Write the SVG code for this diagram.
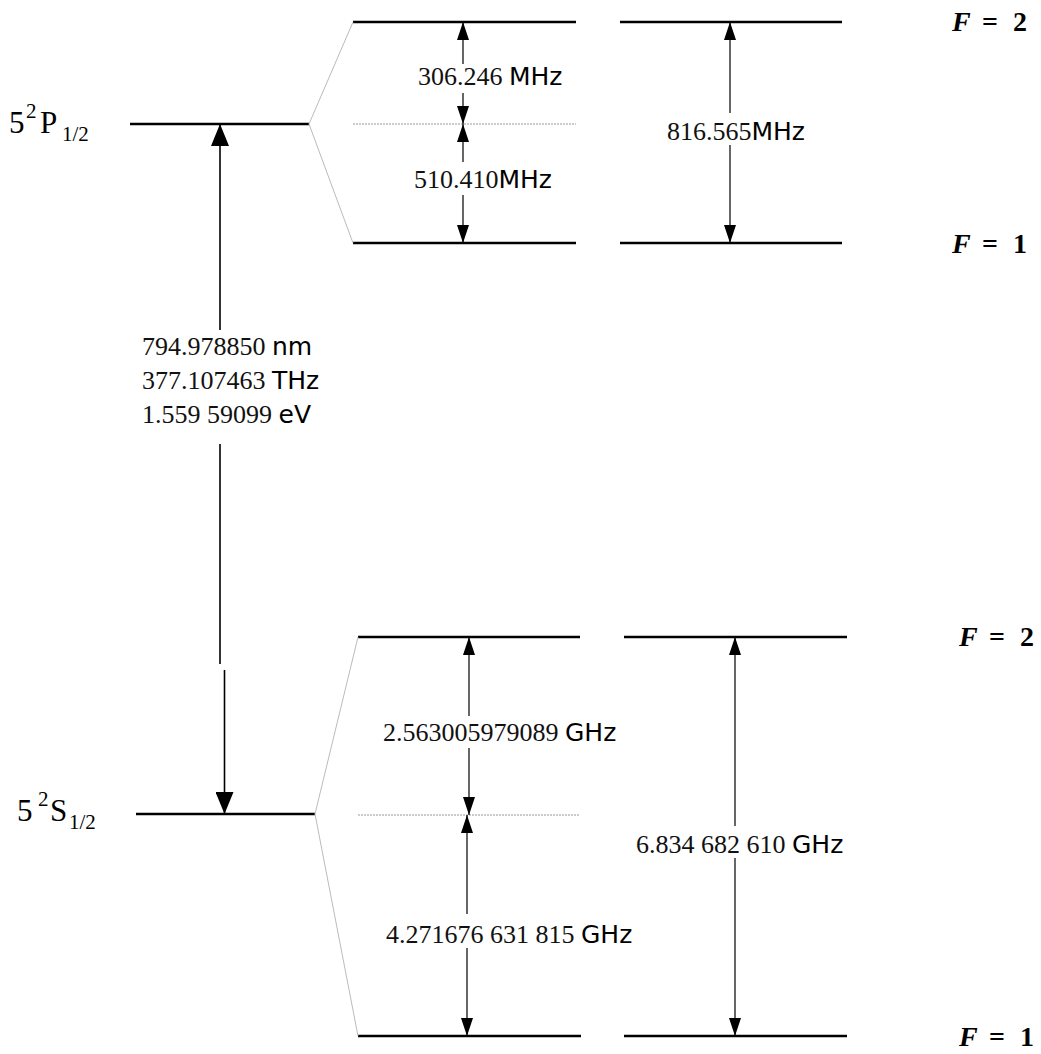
<svg xmlns="http://www.w3.org/2000/svg" width="1041" height="1054" viewBox="0 0 1041 1054">
<style>
.lvl{stroke:#000;stroke-width:2.6;fill:none}
.fan{stroke:#bbb;stroke-width:1;fill:none}
.dot{stroke:#999;stroke-width:1;stroke-dasharray:2 1;fill:none}
.arr{stroke:#000;stroke-width:1.2;fill:none}
.main{stroke:#000;stroke-width:1.6;fill:none}
.num{font-family:"Liberation Serif","Times New Roman",serif;font-size:26px;fill:#111}
.unit{font-family:"DejaVu Sans",Verdana,sans-serif;font-size:25px;fill:#000}
.lab{font-family:"Liberation Serif","Times New Roman",serif;fill:#000;font-size:31px}
.F{font-family:"Liberation Serif","Times New Roman",serif;font-size:28px;font-weight:bold;fill:#000}
</style>
<defs>
<marker id="ah" viewBox="0 0 18 12" refX="18" refY="6" markerWidth="18" markerHeight="12" markerUnits="userSpaceOnUse" orient="auto-start-reverse">
<path d="M0,0 L18,6 L0,12 Z" fill="#000"/>
</marker>
<marker id="ahBig" viewBox="0 0 22 18" refX="22" refY="9" markerWidth="22" markerHeight="18" markerUnits="userSpaceOnUse" orient="auto-start-reverse">
<path d="M0,0 L22,9 L0,18 Z" fill="#000"/>
</marker>
</defs>

<g id="P-level">
<line class="lvl" x1="130" y1="124" x2="309" y2="124"/>
<text class="lab" x="9" y="133">5<tspan font-size="21" x="26" y="118">2</tspan><tspan x="40" y="133">P</tspan><tspan font-size="21" x="62" y="141">1/2</tspan></text>
</g>
<g id="S-level">
<line class="lvl" x1="136" y1="814" x2="315" y2="814"/>
<text class="lab" x="17" y="821">5<tspan font-size="21" x="38" y="806">2</tspan><tspan x="50" y="821">S</tspan><tspan font-size="21" x="69" y="829">1/2</tspan></text>
</g>

<g id="P-F2">
<line class="lvl" x1="353" y1="22" x2="576" y2="22"/>
<line class="lvl" x1="620" y1="22" x2="842" y2="22"/>
<text class="F" y="31"><tspan x="952" font-style="italic">F</tspan><tspan x="982">=</tspan><tspan x="1013">2</tspan></text>
</g>
<g id="P-F1">
<line class="lvl" x1="353" y1="243" x2="576" y2="243"/>
<line class="lvl" x1="620" y1="243" x2="842" y2="243"/>
<text class="F" y="253"><tspan x="952" font-style="italic">F</tspan><tspan x="982">=</tspan><tspan x="1013">1</tspan></text>
</g>
<g id="S-F2">
<line class="lvl" x1="358" y1="637" x2="580" y2="637"/>
<line class="lvl" x1="624" y1="637" x2="847" y2="637"/>
<text class="F" y="646"><tspan x="959" font-style="italic">F</tspan><tspan x="989">=</tspan><tspan x="1020">2</tspan></text>
</g>
<g id="S-F1">
<line class="lvl" x1="358" y1="1036" x2="581" y2="1036"/>
<line class="lvl" x1="624" y1="1036" x2="847" y2="1036"/>
<text class="F" y="1046"><tspan x="959" font-style="italic">F</tspan><tspan x="989">=</tspan><tspan x="1020">1</tspan></text>
</g>

<g id="connectors">
<path class="fan" d="M353,22 L309,124 L353,243"/>
<path class="fan" d="M358,637 L315,814 L358,1036"/>
<line class="dot" x1="353" y1="124" x2="576" y2="124"/>
<line class="dot" x1="358" y1="815" x2="580" y2="815"/>

<line class="main" x1="220" y1="330" x2="220" y2="124" marker-end="url(#ahBig)"/>
<line class="main" x1="220" y1="444" x2="220" y2="664"/>
<line class="main" x1="224.5" y1="670" x2="224.5" y2="814" marker-end="url(#ahBig)"/>

<line class="arr" x1="463" y1="64" x2="463" y2="22" marker-end="url(#ah)"/>
<line class="arr" x1="463" y1="93" x2="463" y2="124" marker-end="url(#ah)"/>
<line class="arr" x1="463" y1="162" x2="463" y2="124" marker-end="url(#ah)"/>
<line class="arr" x1="463" y1="195" x2="463" y2="243" marker-end="url(#ah)"/>
<line class="arr" x1="730" y1="113" x2="730" y2="22" marker-end="url(#ah)"/>
<line class="arr" x1="730" y1="145" x2="730" y2="243" marker-end="url(#ah)"/>

<line class="arr" x1="469" y1="716" x2="469" y2="637" marker-end="url(#ah)"/>
<line class="arr" x1="469" y1="748" x2="469" y2="815" marker-end="url(#ah)"/>
<line class="arr" x1="467" y1="914" x2="467" y2="815" marker-end="url(#ah)"/>
<line class="arr" x1="467" y1="948" x2="467" y2="1036" marker-end="url(#ah)"/>
<line class="arr" x1="735" y1="826" x2="735" y2="637" marker-end="url(#ah)"/>
<line class="arr" x1="735" y1="858" x2="735" y2="1036" marker-end="url(#ah)"/>
</g>

<g id="labels">
<text x="142" y="355"><tspan class="num">794.978850 </tspan><tspan class="unit">nm</tspan></text>
<text x="142" y="389"><tspan class="num">377.107463 </tspan><tspan class="unit">THz</tspan></text>
<text x="142" y="423"><tspan class="num">1.559 59099 </tspan><tspan class="unit">eV</tspan></text>
<text x="418" y="85"><tspan class="num">306.246 </tspan><tspan class="unit">MHz</tspan></text>
<text x="414" y="188"><tspan class="num">510.410</tspan><tspan class="unit">MHz</tspan></text>
<text x="667" y="140"><tspan class="num">816.565</tspan><tspan class="unit">MHz</tspan></text>
<text x="383" y="741"><tspan class="num">2.563005979089 </tspan><tspan class="unit">GHz</tspan></text>
<text x="636" y="853"><tspan class="num">6.834 682 610 </tspan><tspan class="unit">GHz</tspan></text>
<text x="386" y="943"><tspan class="num">4.271676 631 815 </tspan><tspan class="unit">GHz</tspan></text>
</g>
</svg>
